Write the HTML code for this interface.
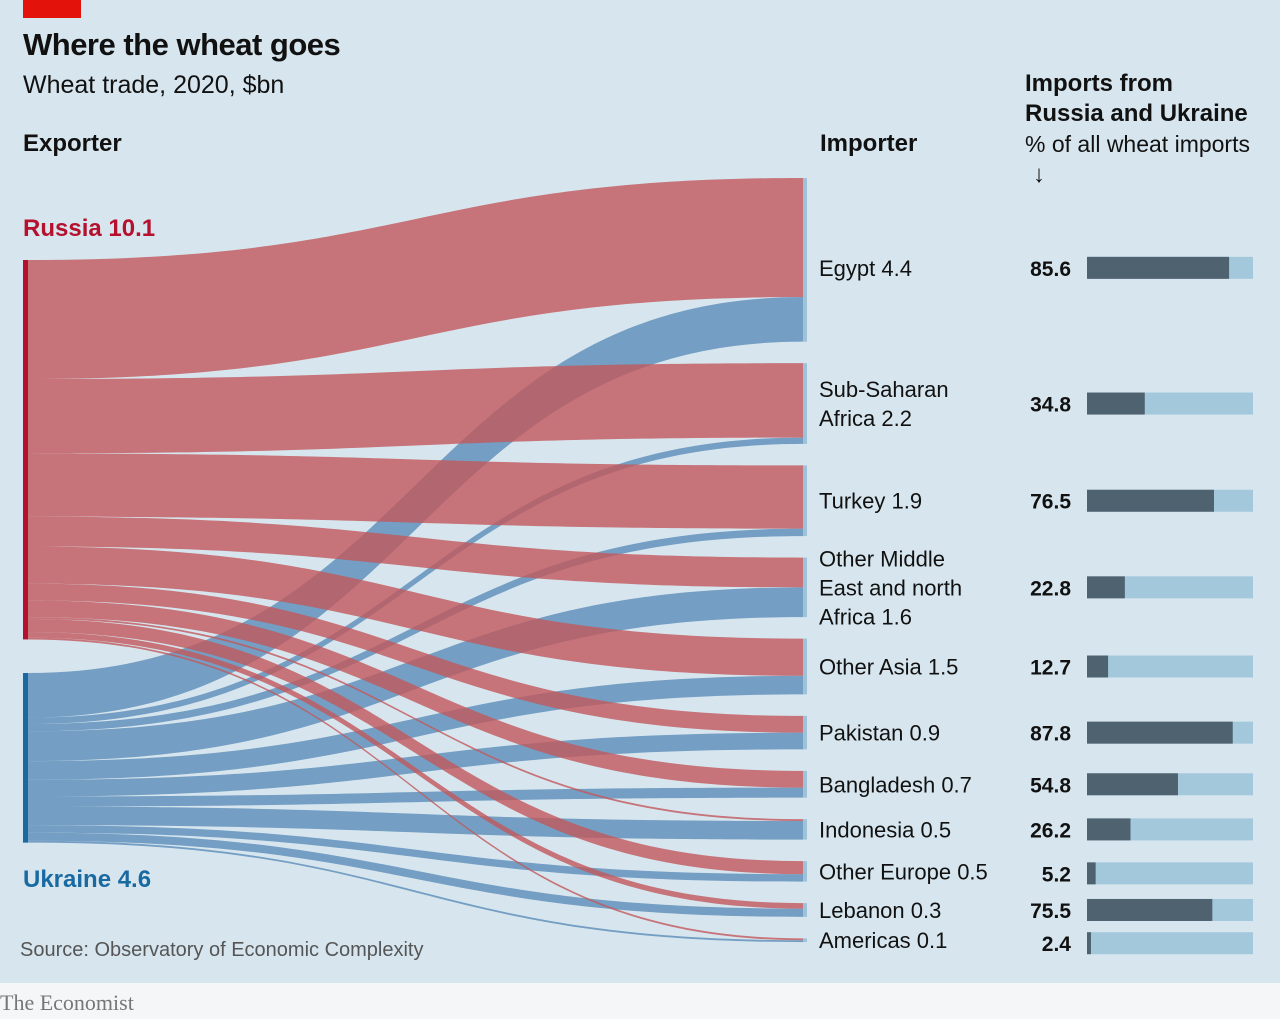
<!DOCTYPE html>
<html><head><meta charset="utf-8"><style>
body{margin:0;width:1280px;height:1019px;background:#d7e6ee;font-family:"Liberation Sans",sans-serif;overflow:hidden;position:relative}
.t{position:absolute;color:#111}
</style></head><body>
<div style="position:absolute;left:23px;top:0;width:58px;height:18px;background:#e3120b"></div>
<div class="t" style="left:23px;top:27px;font-size:31px;font-weight:bold;letter-spacing:-0.5px">Where the wheat goes</div>
<div class="t" style="left:23px;top:71px;font-size:25px">Wheat trade, 2020, $bn</div>
<div class="t" style="left:23px;top:130px;font-size:24px;font-weight:bold">Exporter</div>
<div class="t" style="left:820px;top:130px;font-size:24px;font-weight:bold">Importer</div>
<div class="t" style="left:1025px;top:69px;font-size:24px;line-height:30px"><b>Imports from<br>Russia and Ukraine</b><br><span style="font-size:23px">% of all wheat imports</span><br><span style="margin-left:8px">↓</span></div>
<div class="t" style="left:23px;top:215px;font-size:24px;font-weight:bold;color:#b5102e">Russia 10.1</div>
<div class="t" style="left:23px;top:866px;font-size:24px;font-weight:bold;color:#1a6aa2">Ukraine 4.6</div>
<div class="t" style="left:20px;top:939px;font-size:20px;color:#555">Source: Observatory of Economic Complexity</div>
<div style="position:absolute;left:0;top:983px;width:1280px;height:36px;background:#f4f6f7"></div>
<div class="t" style="left:0;top:990px;font-size:22px;font-family:'Liberation Serif',serif;color:#777">The Economist</div>
<svg id="s" width="1280" height="1019" style="position:absolute;left:0;top:0"></svg>
<script>
const importers=["Egypt 4.4","Sub-Saharan|Africa 2.2","Turkey 1.9","Other Middle|East and north|Africa 1.6","Other Asia 1.5","Pakistan 0.9","Bangladesh 0.7","Indonesia 0.5","Other Europe 0.5","Lebanon 0.3","Americas 0.1"];
const fromRussia=[3.2,2.0,1.7,0.8,1.0,0.45,0.45,0.05,0.35,0.15,0.05];
const fromUkraine=[1.2,0.17,0.2,0.8,0.5,0.45,0.27,0.5,0.2,0.22,0.05];
const sharePct=[85.6,34.8,76.5,22.8,12.7,87.8,54.8,26.2,5.2,75.5,2.4];
const NS="http://www.w3.org/2000/svg",svg=document.getElementById('s');
const k=37.2,gap=21.5,xL=28,xR=803,top0=178,ruTop=260,ukTop=673;
function mk(t,a){const e=document.createElementNS(NS,t);for(const q in a)e.setAttribute(q,a[q]);svg.appendChild(e);return e;}
function band(x0,y0,x1,y1,h,col){const m=(x0+x1)/2;
 return mk('path',{d:`M${x0},${y0}C${m},${y0} ${m},${y1} ${x1},${y1}L${x1},${y1+h}C${m},${y1+h} ${m},${y0+h} ${x0},${y0+h}Z`,fill:col,'fill-opacity':0.8});}
let ry=ruTop,uy=ukTop,ny=top0;const nodes=[];
importers.forEach((n,i)=>{const hr=fromRussia[i]*k,hu=fromUkraine[i]*k;nodes.push({y:ny,hr,hu});ny+=hr+hu+gap;});
importers.forEach((n,i)=>{const nd=nodes[i];const p=band(xL,uy,xR,nd.y+nd.hr,nd.hu,'#5b8cb8');
uy+=nd.hu;});
importers.forEach((n,i)=>{const nd=nodes[i];const p=band(xL,ry,xR,nd.y,nd.hr,'#c2585b');
ry+=nd.hr;});
let r=mk('rect',{x:23,y:ruTop,width:5,height:ry-ruTop,fill:'#b5102e'});
r=mk('rect',{x:23,y:ukTop,width:5,height:uy-ukTop,fill:'#1a6aa2'});
importers.forEach((n,i)=>{const nd=nodes[i],h=nd.hr+nd.hu;let c=nd.y+h/2;if(i==0)c+=8;
 const b=mk('rect',{x:xR,y:nd.y,width:4,height:Math.max(h,2),fill:'#9ec3d9'});
 
 const lines=n.split('|'),lh=29,y0=c-(lines.length-1)*lh/2+8;
 const t=mk('text',{x:819,y:y0,'font-size':22,fill:'#111','font-family':'Liberation Sans'});
 
 lines.forEach((l,j)=>{const s=document.createElementNS(NS,'tspan');s.setAttribute('x',819);s.setAttribute('y',y0+j*lh);s.textContent=l;t.appendChild(s);});
 let cy=c;if(i==8)cy=c+2;if(i==10)cy=c+3;
 const v=mk('text',{x:1071,y:cy+8,'font-size':21,'font-weight':'bold','text-anchor':'end',fill:'#111','font-family':'Liberation Sans'});
 v.textContent=sharePct[i].toFixed(1);
 const bg=mk('rect',{x:1087,y:cy-11,width:166,height:22,fill:'#a3c8dc'});
 const fg=mk('rect',{x:1087,y:cy-11,width:166*sharePct[i]/100,height:22,fill:'#4f6270'});
});
</script>
</body></html>
